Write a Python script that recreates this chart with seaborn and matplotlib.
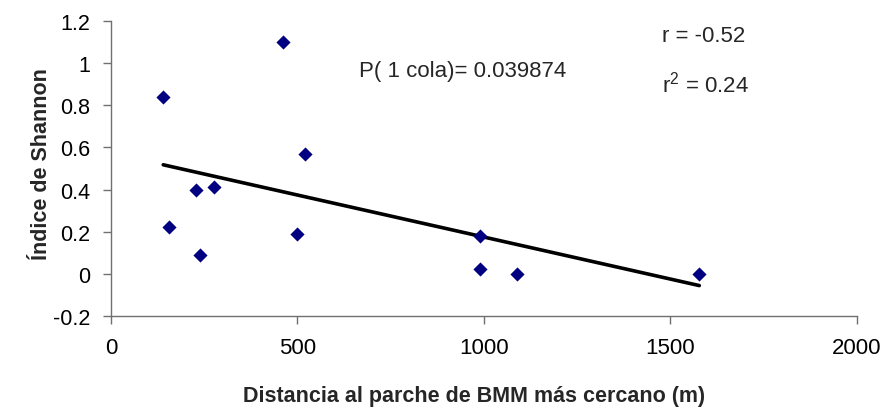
import matplotlib
matplotlib.use("Agg")
import matplotlib.pyplot as plt
import seaborn as sns
import pandas as pd

# Data
distancia = [140, 156, 228, 239, 275, 461, 498, 519, 991, 991, 1090, 1578]
shannon = [0.84, 0.22, 0.40, 0.09, 0.41, 1.10, 0.19, 0.57, 0.18, 0.02, 0.00, 0.00]
x_ticks = [0, 500, 1000, 1500, 2000]
y_ticks = [-0.2, 0, 0.2, 0.4, 0.6, 0.8, 1.0, 1.2]
y_tick_labels = ["-0.2", "0", "0.2", "0.4", "0.6", "0.8", "1", "1.2"]
texto_p = "P( 1 cola)= 0.039874"
texto_r = "r = -0.52"
texto_r2 = r"r$^{2}$ = 0.24"

df = pd.DataFrame({"x": distancia, "y": shannon})

sns.set_style("white")
plt.rcParams["font.family"] = ["Liberation Sans", "DejaVu Sans"]
plt.rcParams["mathtext.fontset"] = "custom"
plt.rcParams["mathtext.rm"] = "Liberation Sans"
plt.rcParams["mathtext.default"] = "regular"

fig, ax = plt.subplots(figsize=(8.94, 4.10), dpi=100)
fig.subplots_adjust(left=0.1242, right=0.9582, bottom=0.2276, top=0.9456)

sns.regplot(data=df, x="x", y="y", scatter=False, ci=None, truncate=True,
            color="black", line_kws={"linewidth": 2.6}, ax=ax)
sns.scatterplot(data=df, x="x", y="y", marker="D", s=52, color="#000080",
                linewidth=0, ax=ax, zorder=3)

ax.set_xlim(0, 2000)
ax.set_ylim(-0.2, 1.2)
ax.set_xticks(x_ticks)
ax.set_xticklabels([str(t) for t in x_ticks], fontsize=16)
ax.set_yticks(y_ticks)
ax.set_yticklabels(y_tick_labels, fontsize=15.5)

for side in ["top", "right"]:
    ax.spines[side].set_visible(False)
for side in ["left", "bottom"]:
    ax.spines[side].set_color("#707070")
    ax.spines[side].set_linewidth(1.0)
ax.tick_params(axis="both", direction="out", length=6, width=1.0,
               color="#707070", labelcolor="black")
ax.tick_params(axis="x", pad=9, bottom=True)
ax.tick_params(axis="y", pad=9, left=True)

ax.set_xlabel("Distancia al parche de BMM más cercano (m)", fontsize=15.5,
              fontweight="bold")
ax.set_ylabel("Índice de Shannon", fontsize=15.5, fontweight="bold")
ax.xaxis.set_label_coords(0.4865, -0.235)
ax.yaxis.set_label_coords(-0.079, 0.519)

ax.text(665, 0.938, texto_p, fontsize=16, va="baseline", ha="left")
ax.text(1477, 1.104, texto_r, fontsize=16, va="baseline", ha="left")
ax.text(1477, 0.868, texto_r2, fontsize=16, va="baseline", ha="left")

fig.savefig("out.png", dpi=100)
